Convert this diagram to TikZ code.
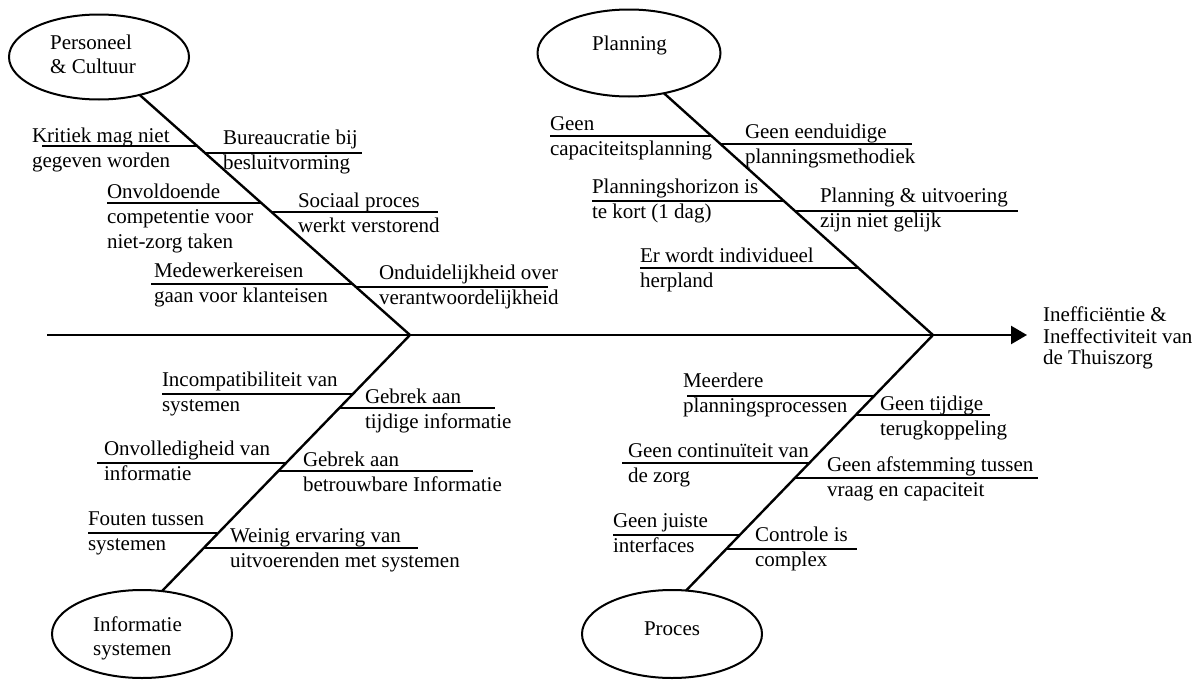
\documentclass[tikz,border=0pt]{standalone}
\usepackage{fontspec}
\setmainfont{Liberation Serif}
\usetikzlibrary{arrows.meta,shapes.geometric}
\begin{document}
\begin{tikzpicture}[x=1pt,y=-1pt,
  cause/.style={anchor=west, inner sep=0pt, outer sep=0pt, align=left,
                font=\fontsize{21}{25}\selectfont},
  catbox/.style={draw, ellipse, line width=2pt, inner sep=0pt, outer sep=0pt},
  cattext/.style={inner sep=0pt, align=left, font=\fontsize{21}{24}\selectfont},
  spine/.style={line width=2.4pt},
  bone/.style={line width=2.4pt},
  twig/.style={line width=1.8pt}]
\useasboundingbox (0,0) rectangle (1197,680);

% ---- category ellipses and their titles
\node[catbox, minimum width=180pt, minimum height=85pt] (pers) at (99,57) {};
\node[cattext, anchor=west] (persT) at (50,57) {\strut Personeel\\\strut \& Cultuur};
\node[catbox, minimum width=183pt, minimum height=87pt] (plan) at (629,53) {};
\node[cattext, anchor=base west] (planT) at (592,50) {Planning};
\node[catbox, minimum width=180pt, minimum height=88pt] (info) at (142,634) {};
\node[cattext, anchor=west] (infoT) at (93,639) {\strut Informatie\\\strut systemen};
\node[catbox, minimum width=180pt, minimum height=88pt] (proc) at (672,634) {};
\node[cattext, anchor=base] (procT) at (672,635) {Proces};

% ---- effect and main spine
\node[cause, font=\fontsize{21}{21}\selectfont] (effect) at (1043,339)
  {\strut Inefficiëntie \&\\\strut Ineffectiviteit van\\\strut de Thuiszorg};
\coordinate (tail) at (47,335);
\coordinate (J1) at (410,335);
\coordinate (J2) at (933,335);
\draw[spine, -{Triangle[length=16pt,width=18pt]}, shorten >=16pt] (tail) -- (effect.west |- tail);

% ---- bones from each category to the spine
\draw[bone] (pers.-43) -- (J1);
\draw[bone] (info.65.6) -- (J1);
\draw[bone] (plan.-49) -- (J2);
\draw[bone] (proc.72.4) -- (J2);

% ---- Personeel & Cultuur
\draw[twig] (42,146) -- (197.4,146);
\draw[twig] (107,203) -- (261.5,203);
\draw[twig] (151,284) -- (352.6,284);
\draw[twig] (205.3,153) -- (362,153);
\draw[twig] (271.6,212) -- (438,212);
\draw[twig] (356,287) -- (548,287);
\node[cause] (c1) at (32,150) {\strut Kritiek mag niet\\\strut gegeven worden};
\node[cause] (c2) at (223,152) {\strut Bureaucratie bij\\\strut besluitvorming};
\node[cause] (c3) at (107,218) {\strut Onvoldoende\\\strut competentie voor\\\strut niet-zorg taken};
\node[cause] (c4) at (298,214.5) {\strut Sociaal proces\\\strut werkt verstorend};
\node[cause] (c5) at (154,284.5) {\strut Medewerkereisen\\\strut gaan voor klanteisen};
\node[cause] (c6) at (379,287) {\strut Onduidelijkheid over\\\strut verantwoordelijkheid};

% ---- Planning
\draw[twig] (550,136) -- (711.7,136);
\draw[twig] (592,201) -- (784,201);
\draw[twig] (640,268) -- (858.5,268);
\draw[twig] (720.6,144) -- (912,144);
\draw[twig] (795,211) -- (1018,211);
\node[cause] (p1) at (550,137.5) {\strut Geen\\\strut capaciteitsplanning};
\node[cause] (p2) at (745,145.5) {\strut Geen eenduidige\\\strut planningsmethodiek};
\node[cause] (p3) at (592,200.5) {\strut Planningshorizon is\\\strut te kort (1 dag)};
\node[cause] (p4) at (820,210) {\strut Planning \& uitvoering\\\strut zijn niet gelijk};
\node[cause] (p5) at (640,270) {\strut Er wordt individueel\\\strut herpland};

% ---- Informatie systemen
\draw[twig] (162,394) -- (352.6,394);
\draw[twig] (97,463) -- (285.5,463);
\draw[twig] (88,533) -- (217.4,533);
\draw[twig] (339,408) -- (495,408);
\draw[twig] (277.7,471) -- (473,471);
\draw[twig] (202.9,548) -- (418,548);
\node[cause] (i1) at (162,393.5) {\strut Incompatibiliteit van\\\strut systemen};
\node[cause] (i2) at (365,410.5) {\strut Gebrek aan\\\strut tijdige informatie};
\node[cause] (i3) at (104,463) {\strut Onvolledigheid van\\\strut informatie};
\node[cause] (i4) at (303,473.5) {\strut Gebrek aan\\\strut betrouwbare Informatie};
\node[cause] (i5) at (88,533) {\strut Fouten tussen\\\strut systemen};
\node[cause] (i6) at (230,550) {\strut Weinig ervaring van\\\strut uitvoerenden met systemen};

% ---- Proces
\draw[twig] (687,396) -- (873.9,396);
\draw[twig] (622,463) -- (809,463);
\draw[twig] (613,535) -- (739.3,535);
\draw[twig] (855.5,415) -- (990,415);
\draw[twig] (794.6,478) -- (1038,478);
\draw[twig] (725.7,549) -- (857,549);
\node[cause] (r1) at (683,394.5) {\strut Meerdere\\\strut planningsprocessen};
\node[cause] (r2) at (880,417.5) {\strut Geen tijdige\\\strut terugkoppeling};
\node[cause] (r3) at (628,464.5) {\strut Geen continuïteit van\\\strut de zorg};
\node[cause] (r4) at (827,478.5) {\strut Geen afstemming tussen\\\strut vraag en capaciteit};
\node[cause] (r5) at (613,534.5) {\strut Geen juiste\\\strut interfaces};
\node[cause] (r6) at (755,549) {\strut Controle is\\\strut complex};
\end{tikzpicture}
\end{document}
